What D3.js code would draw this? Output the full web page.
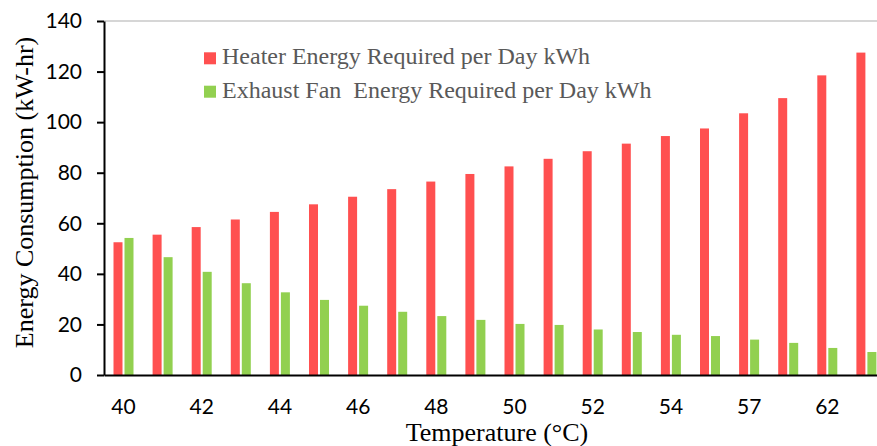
<!DOCTYPE html>
<html>
<head>
<meta charset="utf-8">
<script src="https://cdn.jsdelivr.net/npm/d3@7"></script>
<style>
  html, body { margin: 0; padding: 0; background: #fff; }
  svg { display: block; }
  .tick text { font-family: Lato, "Open Sans", sans-serif; fill: #000; }
</style>
</head>
<body>
<script>
// Temperature categories (°C)
const temperatures = [40, 41, 42, 43, 44, 45, 46, 47, 48, 49, 50, 51, 52, 53, 54, 55, 57, 59, 62, 65];
// Daily energy use per temperature (kWh)
const heaterEnergy = [52.5, 55.5, 58.5, 61.5, 64.5, 67.5, 70.5, 73.5, 76.5, 79.5, 82.5, 85.5, 88.5, 91.5, 94.5, 97.5, 103.5, 109.5, 118.5, 127.5];
const exhaustEnergy = [54.2, 46.6, 40.8, 36.3, 32.7, 29.7, 27.4, 25.0, 23.3, 21.8, 20.2, 19.8, 18.0, 17.0, 15.9, 15.4, 14.0, 12.7, 10.7, 9.1];
// Axis ticks
const yTicks = [0, 20, 40, 60, 80, 100, 120, 140];
const xTickLabels = [40, 42, 44, 46, 48, 50, 52, 54, 57, 62];
// Series names and colours
const seriesNames = ["Heater Energy Required per Day kWh", "Exhaust Fan  Energy Required per Day kWh"];
const seriesColors = ["#FF5050", "#92D050"];

const W = 877, H = 446;
const plotLeft = 104, plotTop = 21, plotBottom = 375;
const step = 39.1;
const serif = "'Liberation Serif', 'Times New Roman', serif";

const svg = d3.select("body").append("svg")
  .attr("width", W).attr("height", H);

const x = d3.scaleBand()
  .domain(temperatures)
  .range([plotLeft, plotLeft + temperatures.length * step])
  .padding(0);

const xSub = d3.scaleBand()
  .domain([0, 1])
  .range([9.5, 29.5])
  .paddingInner(2 / 11);

const y = d3.scaleLinear().domain([0, 140]).range([plotBottom, plotTop]);

// top gridline
svg.append("line")
  .attr("x1", plotLeft).attr("x2", W)
  .attr("y1", y(140)).attr("y2", y(140))
  .attr("stroke", "#c9c9c9").attr("stroke-width", 1.5);

// bars
const rows = temperatures.map((t, i) => ({ t, vals: [heaterEnergy[i], exhaustEnergy[i]] }));
const groups = svg.append("g").selectAll("g").data(rows).join("g")
  .attr("transform", d => `translate(${x(d.t)},0)`);
groups.selectAll("rect")
  .data(d => d.vals.map((v, k) => ({ v, k })))
  .join("rect")
  .attr("x", d => xSub(d.k))
  .attr("width", xSub.bandwidth())
  .attr("y", d => y(d.v))
  .attr("height", d => y(0) - y(d.v))
  .attr("fill", d => seriesColors[d.k]);

// y axis
const yAxis = svg.append("g")
  .attr("transform", `translate(${plotLeft},0)`)
  .call(d3.axisLeft(y).tickValues(yTicks).tickSizeInner(7).tickSizeOuter(0).tickPadding(15));
yAxis.attr("font-family", null).attr("font-size", null);
yAxis.selectAll("text").attr("font-size", 21);
yAxis.selectAll("line, path").attr("stroke", "#000").attr("stroke-width", 2);

// x axis
const xAxis = svg.append("g")
  .attr("transform", `translate(0,${plotBottom})`)
  .call(d3.axisBottom(x).tickValues(xTickLabels).tickSizeInner(0).tickSizeOuter(0).tickPadding(24));
xAxis.attr("font-family", null).attr("font-size", null);
xAxis.selectAll("text").attr("font-size", 21);
xAxis.select("path").attr("stroke", "#000").attr("stroke-width", 2);

// axis titles
svg.append("text")
  .attr("x", 497).attr("y", 441)
  .attr("text-anchor", "middle")
  .attr("font-family", serif)
  .attr("font-size", 26)
  .attr("fill", "#000")
  .text("Temperature (°C)");

svg.append("text")
  .attr("transform", "translate(33,192.5) rotate(-90)")
  .attr("text-anchor", "middle")
  .attr("font-family", serif)
  .attr("font-size", 26)
  .attr("fill", "#000")
  .text("Energy Consumption (kW-hr)");

// legend
const legend = svg.append("g").attr("transform", "translate(204,0)");
seriesNames.forEach((name, k) => {
  const base = 64.3 + k * 33.4;
  legend.append("rect")
    .attr("x", 0).attr("y", base - 12)
    .attr("width", 12).attr("height", 12)
    .attr("fill", seriesColors[k]);
  legend.append("text")
    .attr("x", 18).attr("y", base)
    .attr("xml:space", "preserve")
    .attr("font-family", serif)
    .attr("font-size", 24)
    .attr("fill", "#595959")
    .style("white-space", "pre")
    .text(name);
});
</script>
</body>
</html>
